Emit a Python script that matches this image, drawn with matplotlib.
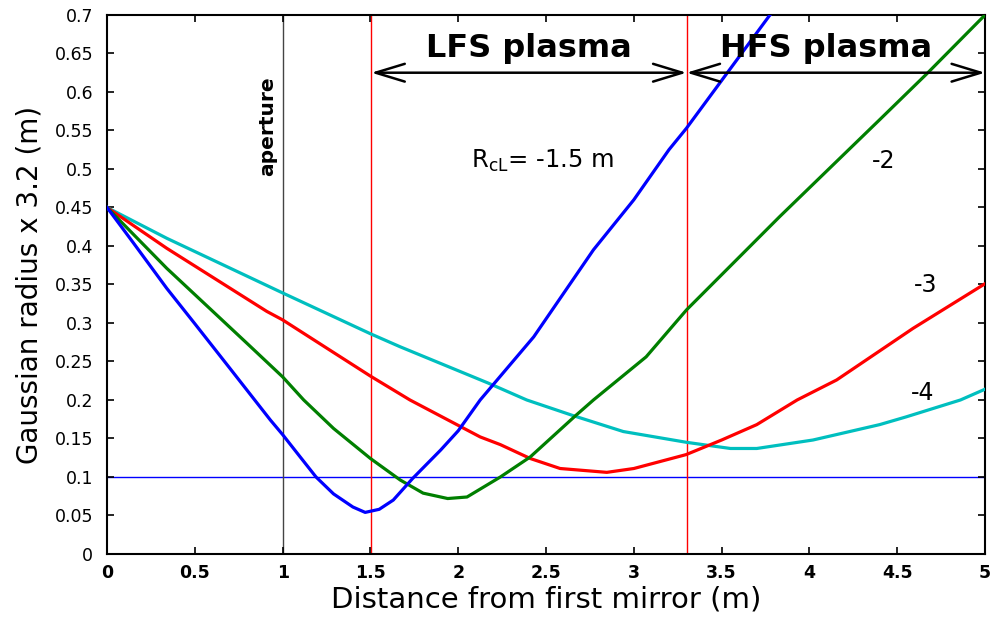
import matplotlib
matplotlib.use("Agg")
import matplotlib.pyplot as plt

# beam radius vs distance for several mirror curvatures R_cL
x_blue = [0, 0.15, 0.34, 0.5, 0.7, 0.93, 1.0, 1.1, 1.19, 1.29, 1.4, 1.47, 1.55, 1.63,
          1.74, 1.9, 2.0, 2.125, 2.43, 2.77, 3.0, 3.2, 3.3, 3.51, 3.775, 3.85]
y_blue = [0.45, 0.404, 0.345, 0.299, 0.241, 0.174, 0.155, 0.126, 0.100, 0.078, 0.061,
          0.054, 0.058, 0.070, 0.098, 0.135, 0.160, 0.200, 0.282, 0.395, 0.460, 0.525,
          0.553, 0.618, 0.700, 0.72]

x_green = [0, 0.34, 0.795, 1.0, 1.12, 1.29, 1.5, 1.67, 1.8, 1.94, 2.05, 2.24, 2.41,
           2.67, 2.77, 3.07, 3.3, 3.83, 4.4, 4.67, 5.0]
y_green = [0.45, 0.371, 0.274, 0.230, 0.200, 0.163, 0.124, 0.096, 0.079, 0.072, 0.074,
           0.100, 0.126, 0.180, 0.200, 0.256, 0.317, 0.438, 0.564, 0.624, 0.700]

x_red = [0, 0.34, 0.91, 1.0, 1.5, 1.725, 2.125, 2.24, 2.41, 2.58, 2.846, 3.0, 3.297,
         3.5, 3.7, 3.93, 4.155, 4.59, 5.0]
y_red = [0.45, 0.397, 0.315, 0.304, 0.231, 0.200, 0.152, 0.142, 0.124, 0.111, 0.106,
         0.111, 0.129, 0.148, 0.168, 0.200, 0.226, 0.293, 0.351]

x_cyan = [0, 0.34, 1.0, 1.5, 1.67, 2.17, 2.39, 2.65, 2.94, 3.3, 3.55, 3.7, 4.02, 4.4,
          4.55, 4.86, 5.0]
y_cyan = [0.45, 0.410, 0.339, 0.286, 0.269, 0.222, 0.200, 0.180, 0.159, 0.145, 0.137,
          0.137, 0.148, 0.168, 0.178, 0.200, 0.214]

aperture_x = 1.0
lfs_start = 1.505
hfs_start = 3.3
x_end = 5.0
target_radius = 0.1

curve_labels = ["-2", "-3", "-4"]
curve_label_pos = [(4.42, 0.51), (4.66, 0.349), (4.645, 0.209)]

xticks = [0, 0.5, 1, 1.5, 2, 2.5, 3, 3.5, 4, 4.5, 5]
yticks = [0, 0.05, 0.1, 0.15, 0.2, 0.25, 0.3, 0.35, 0.4, 0.45, 0.5, 0.55, 0.6, 0.65, 0.7]

fig = plt.figure(figsize=(9.91, 6.18), dpi=100)
ax = fig.add_axes([0.108, 0.1036, 0.886, 0.8722])

ax.axhline(target_radius, color="#0000ff", lw=1.0, zorder=1)
ax.axvline(aperture_x, color="#444444", lw=1.0, zorder=1)
ax.axvline(lfs_start, color="#ff0000", lw=1.0, zorder=1)
ax.axvline(hfs_start, color="#ff0000", lw=1.0, zorder=1)

ax.plot(x_cyan, y_cyan, color="#00bfbf", lw=2.3, zorder=3)
ax.plot(x_red, y_red, color="#ff0000", lw=2.3, zorder=3)
ax.plot(x_green, y_green, color="#007f00", lw=2.3, zorder=3)
ax.plot(x_blue, y_blue, color="#0000ff", lw=2.3, zorder=3)

# plasma region arrows
arrow_y = 0.625
for a, b in [(lfs_start, hfs_start), (hfs_start, x_end)]:
    ax.annotate("", xy=(b, arrow_y), xytext=(a, arrow_y),
                arrowprops=dict(arrowstyle="<->,head_length=1.05,head_width=0.32",
                                mutation_scale=20, lw=1.8, color="black",
                                shrinkA=0, shrinkB=0), zorder=4)

ax.text(2.40, 0.657, "LFS plasma", fontsize=23, fontweight="bold",
        ha="center", va="center", zorder=5)
ax.text(4.095, 0.657, "HFS plasma", fontsize=23, fontweight="bold",
        ha="center", va="center", zorder=5)
ax.text(0.915, 0.556, "aperture", fontsize=14.5, fontweight="bold",
        rotation=90, ha="center", va="center")
ax.text(2.48, 0.51, r"R$_{\rm cL}$= -1.5 m", fontsize=17.5, ha="center", va="center")
for lab, (lx, ly) in zip(curve_labels, curve_label_pos):
    ax.text(lx, ly, lab, fontsize=17, ha="center", va="center")

ax.set_xlim(0, 5)
ax.set_ylim(0, 0.7)
ax.set_xticks(xticks)
ax.set_xticklabels(["%g" % t for t in xticks], fontweight="bold")
ax.set_yticks(yticks)
ax.set_yticklabels(["%g" % t for t in yticks])
ax.tick_params(direction="in", length=5, width=1.2, labelsize=12.5,
               top=True, right=True)
ax.tick_params(axis="y", pad=10)
ax.tick_params(axis="x", pad=7)

for s in ax.spines.values():
    s.set_linewidth(1.5)

ax.set_xlabel("Distance from first mirror (m)", fontsize=21, labelpad=3)
ax.set_ylabel("Gaussian radius x 3.2 (m)", fontsize=20, labelpad=8)

fig.savefig("out.png", dpi=100)
